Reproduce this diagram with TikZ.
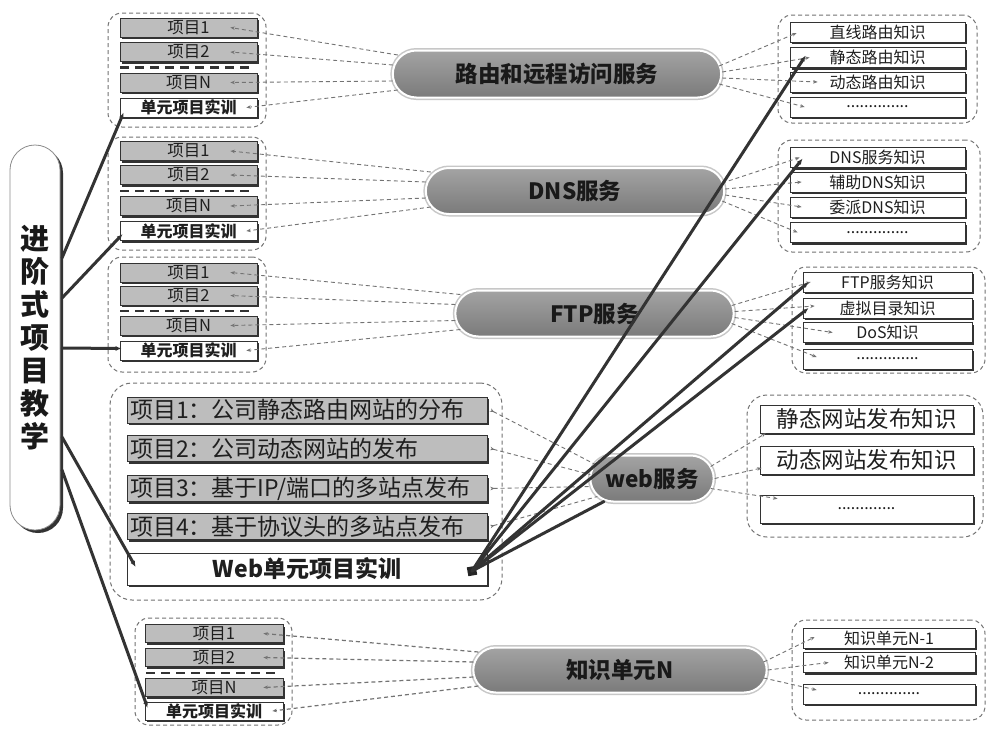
\documentclass[tikz,border=0pt]{standalone}
\usepackage{fontspec}
\setmainfont{Noto Sans CJK SC}
\usetikzlibrary{shapes.misc,shadows,arrows.meta,calc}
\tikzset{
  grpbox/.style={rectangle, draw=black!55, line width=1pt, dash pattern=on 4pt off 3pt, rounded corners=14pt, inner sep=0pt},
  itm/.style={rectangle, draw=black!80, line width=0.7pt, fill=black!26, minimum width=137pt, minimum height=19pt, inner sep=0pt, text=black!88, font=\fontsize{16.5}{16.5}\selectfont, drop shadow={shadow xshift=2pt, shadow yshift=-2pt, fill=black!80, opacity=1}},
  unititm/.style={itm, fill=white, font=\bfseries\fontsize{16}{16}\selectfont},
  ritm/.style={itm, fill=white, minimum height=20pt, font=\fontsize{16}{16}\selectfont},
  witm/.style={itm, minimum width=360pt, minimum height=26pt, text width=354pt, inner xsep=3pt, align=left, font=\fontsize{23}{23}\selectfont},
  wunit/.style={witm, fill=white, minimum height=32pt, align=center, font=\bfseries\fontsize{23}{23}\selectfont},
  r4itm/.style={itm, fill=white, minimum width=213pt, minimum height=28pt, font=\fontsize{22.5}{22.5}\selectfont},
  pillst/.style={rounded rectangle, draw=white, line width=2pt, top color=black!36, bottom color=black!52, text=black!90, font=\bfseries\fontsize{22.5}{22.5}\selectfont, preaction={draw=black!22, line width=5pt}},
  bigpill/.style={rectangle, rounded corners=25pt, draw=black!45, line width=0.8pt, fill=white, align=center, text=black!90, font=\bfseries\fontsize{29}{33}\selectfont, drop shadow={shadow xshift=3pt, shadow yshift=-3pt, fill=black!80, opacity=1}},
  sepline/.style={draw=black!80, line width=2.6pt, dash pattern=on 9pt off 6pt},
  dcon/.style={draw=black!55, line width=0.9pt, dash pattern=on 4pt off 3pt},
  tip/.style={-{Stealth[length=4.5pt,width=3.5pt]}},
  heavy/.style={draw=black!80, line width=3pt, line cap=round},
}
\begin{document}
\begin{tikzpicture}[x=1pt,y=-1pt]
\useasboundingbox (0,0) rectangle (988,729);
\fill[white] (0,0) rectangle (988,729);

% ---------- group boxes ----------
\node[grpbox, minimum width=158pt, minimum height=114pt] (G1) at (187,70) {};
\node[grpbox, minimum width=158pt, minimum height=113pt] (G2) at (187,193.5) {};
\node[grpbox, minimum width=158pt, minimum height=115pt] (G3) at (187,314.5) {};
\node[grpbox, minimum width=392pt, minimum height=217pt, rounded corners=22pt] (GW) at (306,491.5) {};
\node[grpbox, minimum width=157pt, minimum height=107pt] (G5) at (213.5,671.5) {};
\node[grpbox, minimum width=199pt, minimum height=108pt] (R1) at (877.5,69) {};
\node[grpbox, minimum width=202pt, minimum height=112pt] (R2) at (879,196) {};
\node[grpbox, minimum width=193pt, minimum height=106pt] (R3) at (888.5,320) {};
\node[grpbox, minimum width=236pt, minimum height=142pt, rounded corners=20pt] (R4) at (865,466) {};
\node[grpbox, minimum width=193pt, minimum height=100pt] (R5) at (888.5,670) {};

% ---------- left item groups ----------
\node[itm] (g1a) at (188.5,27.5) {项目1};
\node[itm] (g1b) at (188.5,52) {项目2};
\node[itm] (g1n) at (188.5,82.5) {项目N};
\node[unititm] (g1u) at (188.5,107.5) {单元项目实训};
\draw[sepline] (120,67.5) -- (252,67.5);

\node[itm] (g2a) at (188.5,151) {项目1};
\node[itm] (g2b) at (188.5,175) {项目2};
\node[itm] (g2n) at (188.5,206) {项目N};
\node[unititm] (g2u) at (188.5,231) {单元项目实训};
\draw[sepline] (120,191) -- (252,191);

\node[itm] (g3a) at (188.5,272.5) {项目1};
\node[itm] (g3b) at (188.5,295.5) {项目2};
\node[itm] (g3n) at (188.5,325.5) {项目N};
\node[unititm] (g3u) at (188.5,350.5) {单元项目实训};
\draw[sepline] (120,311) -- (252,311);

\node[itm, minimum width=138pt, minimum height=18pt] (g5a) at (214,633.5) {项目1};
\node[itm, minimum width=138pt, minimum height=18pt] (g5b) at (214,657.5) {项目2};
\node[itm, minimum width=138pt, minimum height=18pt] (g5n) at (214,687.5) {项目N};
\node[unititm, minimum width=138pt, minimum height=18pt] (g5u) at (214,711) {单元项目实训};
\draw[sepline] (146,673) -- (278,673);

% ---------- web items ----------
\node[witm] (w1) at (307,410) {项目1：公司静态路由网站的分布};
\node[witm] (w2) at (307,448.5) {项目2：公司动态网站的发布};
\node[witm] (w3) at (307,488.5) {项目3：基于IP/端口的多站点发布};
\node[witm] (w4) at (307,526.5) {项目4：基于协议头的多站点发布};
\node[wunit] (wu) at (307,569) {Web单元项目实训};

% ---------- right items ----------
\node[ritm, minimum width=175pt] (r1a) at (877.5,32) {直线路由知识};
\node[ritm, minimum width=175pt] (r1b) at (877.5,57.5) {静态路由知识};
\node[ritm, minimum width=175pt] (r1c) at (877.5,82) {动态路由知识};
\node[ritm, minimum width=175pt] (r1d) at (877.5,107) {..............};

\node[ritm, minimum width=175pt] (r2a) at (877.5,157.5) {DNS服务知识};
\node[ritm, minimum width=175pt] (r2b) at (877.5,182) {辅助DNS知识};
\node[ritm, minimum width=175pt] (r2c) at (877.5,207) {委派DNS知识};
\node[ritm, minimum width=175pt] (r2d) at (877.5,232.5) {..............};

\node[ritm, minimum width=169pt] (r3a) at (887.5,282) {FTP服务知识};
\node[ritm, minimum width=169pt] (r3b) at (887.5,308) {虚拟目录知识};
\node[ritm, minimum width=169pt] (r3c) at (887.5,332.5) {DoS知识};
\node[ritm, minimum width=169pt] (r3d) at (887.5,359) {..............};

\node[r4itm] (r4a) at (866.5,419) {静态网站发布知识};
\node[r4itm] (r4b) at (866.5,460) {动态网站发布知识};
\node[r4itm, font=\fontsize{16}{16}\selectfont] (r4c) at (866.5,509) {.............};

\node[ritm, minimum width=172pt] (r5a) at (889,638) {知识单元N-1};
\node[ritm, minimum width=172pt] (r5b) at (889,662.5) {知识单元N-2};
\node[ritm, minimum width=172pt] (r5c) at (889,694) {..............};

% ---------- pills ----------
\node[pillst, minimum width=335pt, minimum height=47pt] (p1) at (557,74) {路由和远程访问服务};
\node[pillst, minimum width=305pt, minimum height=46pt] (p2) at (575,191) {DNS服务};
\node[pillst, minimum width=285pt, minimum height=46pt] (p3) at (594.5,313.5) {FTP服务};
\node[pillst, minimum width=130pt, minimum height=46pt] (pw) at (652,478.5) {web服务};
\node[pillst, minimum width=300pt, minimum height=45pt] (p5) at (620,670) {知识单元N};

% ---------- big left pill ----------
\node[bigpill, minimum width=50pt, minimum height=385pt] (main) at (35,337.5) {进\\阶\\式\\项\\目\\教\\学};

% ---------- dashed connectors: left groups ----------
\draw[dcon,tip] ($(p1.west)+(6,-19)$) -- ($(g1a.east)+(-27,0)$);
\draw[dcon,tip] ($(p1.west)+(1,-9)$) -- ($(g1b.east)+(-27,0)$);
\draw[dcon,tip] ($(p1.west)+(1,7)$) -- ($(g1n.east)+(-27,0)$);
\draw[dcon,tip] ($(p1.west)+(6,16)$) -- ($(g1u.east)+(-11,0)$);

\draw[dcon,tip] ($(p2.west)+(6,-19)$) -- ($(g2a.east)+(-27,0)$);
\draw[dcon,tip] ($(p2.west)+(1,-9)$) -- ($(g2b.east)+(-27,0)$);
\draw[dcon,tip] ($(p2.west)+(1,7)$) -- ($(g2n.east)+(-27,0)$);
\draw[dcon,tip] ($(p2.west)+(6,16)$) -- ($(g2u.east)+(-11,0)$);

\draw[dcon,tip] ($(p3.west)+(6,-19)$) -- ($(g3a.east)+(-27,0)$);
\draw[dcon,tip] ($(p3.west)+(1,-9)$) -- ($(g3b.east)+(-27,0)$);
\draw[dcon,tip] ($(p3.west)+(1,7)$) -- ($(g3n.east)+(-27,0)$);
\draw[dcon,tip] ($(p3.west)+(6,16)$) -- ($(g3u.east)+(-11,0)$);

\draw[dcon,tip,line width=1.2pt] ($(p5.west)+(6,-18)$) -- ($(g5a.east)+(-20,0)$);
\draw[dcon,tip,line width=1.2pt] ($(p5.west)+(1,-8)$) -- ($(g5b.east)+(-20,0)$);
\draw[dcon,tip,line width=1.2pt] ($(p5.west)+(1,7)$) -- ($(g5n.east)+(-20,0)$);
\draw[dcon,tip,line width=1.2pt] ($(p5.west)+(6,16)$) -- ($(g5u.east)+(-11,0)$);

% web items -> web pill
\draw[dcon,{Stealth[length=4.5pt,width=3.5pt,reversed]}-] ($(w1.east)+(3,0)$) -- ($(pw.west)+(6,-14)$);
\draw[dcon,{Stealth[length=4.5pt,width=3.5pt,reversed]}-] ($(w2.east)+(3,0)$) -- ($(pw.west)+(1,-4)$);
\draw[dcon,{Stealth[length=4.5pt,width=3.5pt,reversed]}-] ($(w3.east)+(3,0)$) -- ($(pw.west)+(1,8)$);
\draw[dcon,{Stealth[length=4.5pt,width=3.5pt,reversed]}-] ($(w4.east)+(3,0)$) -- ($(pw.west)+(8,18)$);

% ---------- dashed connectors: right groups ----------
\draw[dcon,tip] ($(p1.east)+(-3,-8)$) -- ($(r1a.west)+(7,1)$);
\draw[dcon,tip] ($(p1.east)+(0,-2)$) -- ($(r1b.west)+(20,0)$);
\draw[dcon,tip] ($(p1.east)+(0,4)$) -- ($(r1c.west)+(28,0)$);
\draw[dcon,tip] ($(p1.east)+(-3,10)$) -- ($(r1d.west)+(15,0)$);

\draw[dcon,tip] ($(p2.east)+(-3,-8)$) -- ($(r2a.west)+(10,0)$);
\draw[dcon,tip] ($(p2.east)+(0,-2)$) -- ($(r2b.west)+(12,0)$);
\draw[dcon,tip] ($(p2.east)+(0,4)$) -- ($(r2c.west)+(12,0)$);
\draw[dcon,tip] ($(p2.east)+(-3,10)$) -- ($(r2d.west)+(8,0)$);

\draw[dcon,tip] ($(p3.east)+(-3,-8)$) -- ($(r3a.west)+(8,0)$);
\draw[dcon,tip] ($(p3.east)+(0,-2)$) -- ($(r3b.west)+(12,-2)$);
\draw[dcon,tip] ($(p3.east)+(0,4)$) -- ($(r3c.west)+(30,0)$);
\draw[dcon,tip] ($(p3.east)+(-3,10)$) -- ($(r3d.west)+(14,-2)$);

\draw[dcon,tip] ($(pw.east)+(-4,-12)$) -- ($(r4a.south west)+(6,0)$);
\draw[dcon,tip] ($(pw.east)+(0,0)$) -- ($(r4b.west)+(2,8)$);
\draw[dcon,tip] ($(pw.east)+(-4,10)$) -- ($(r4c.north west)+(18,4)$);

\draw[dcon,tip] ($(p5.east)+(-4,-8)$) -- ($(r5a.west)+(12,-1)$);
\draw[dcon,tip] ($(p5.east)+(0,0)$) -- ($(r5b.west)+(26,0)$);
\draw[dcon,tip] ($(p5.east)+(-4,8)$) -- ($(r5c.west)+(14,-4)$);

% ---------- heavy lines from the trunk ----------
\coordinate (t1) at (62,258);
\coordinate (t2) at (62,298);
\coordinate (t3) at (62,348);
\coordinate (t4) at (62,437);
\coordinate (t5) at (62,470);
\draw[heavy,-{Latex[length=6pt,width=5pt]}] (t1) -- ($(g1u.west)+(4,5)$);
\draw[heavy,-{Latex[length=6pt,width=5pt]}] (t2) -- ($(g2u.west)+(3,3)$);
\draw[heavy,-{Latex[length=6pt,width=5pt]}] (t3) -- ($(g3u.west)+(2,-2)$);
\draw[heavy,-{Latex[length=6pt,width=5pt]}] (t4) -- ($(wu.west)+(9,-2)$);
\draw[heavy,-{Latex[length=6pt,width=5pt]}] (t5) -- ($(g5u.west)+(3,-3)$);

% ---------- heavy lines converging on the web unit ----------
\node[fill=black!85, minimum size=9pt, inner sep=0pt, rotate=10] (sq) at (472,571) {};
\draw[heavy,-{Latex[length=6pt,width=5pt]}] (sq.center) -- ($(r1b.west)+(16,-2)$);
\draw[heavy,-{Latex[length=6pt,width=5pt]}] (sq.center) -- ($(r2a.west)+(13,1)$);
\draw[heavy,-{Latex[length=6pt,width=5pt]}] (sq.center) -- ($(r3a.west)+(6,0)$);
\draw[heavy,-{Latex[length=6pt,width=5pt]}] (sq.center) -- ($(r3b.west)+(6,0)$);
\draw[heavy] (sq.center) -- ($(pw.south)+(-48,-1)$);
\end{tikzpicture}
\end{document}
